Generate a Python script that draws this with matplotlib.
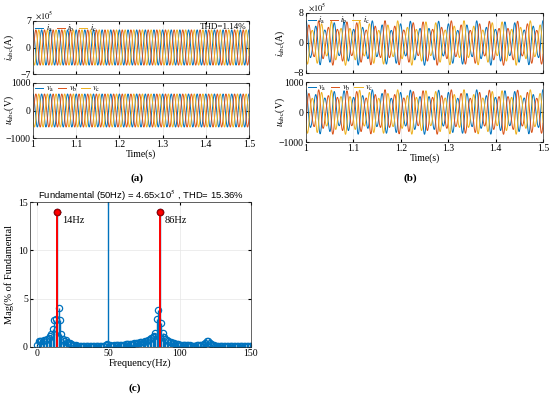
import numpy as np
import matplotlib
matplotlib.use('Agg')
import matplotlib.pyplot as plt

plt.rcParams['font.family'] = ['Liberation Serif', 'DejaVu Serif']
plt.rcParams['mathtext.fontset'] = 'stix'

# waveform parameters (a) and (b)
fund_hz = 50
phase_deg = [0, -120, 120]
phase_colors = ['#0072BD', '#D95319', '#EDB120']
cur_amp = 4.65          # x10^5 A
vol_amp = 600           # V
sso_freqs = [14, 86]
sso_cur_pct = [14, 14]
sso_vol_pct = [12, 12]
thd_a = 'THD=1.14%'

# spectrum of panel (c), % of fundamental, 0..150 Hz step 1 Hz
freqs = list(range(0, 151))
mags = [0.25, 0.65, 0.6, 0.62, 0.65, 0.7, 0.72, 0.8, 0.9, 1.1,
        1.3, 1.9, 2.8, 2.9, 14.0, 4.0, 2.8, 1.3, 0.8, 0.6,
        0.7, 0.5, 0.45, 0.4, 0.3, 0.25, 0.2, 0.2, 0.15, 0.15,
        0.12, 0.1, 0.1, 0.09, 0.08, 0.08, 0.08, 0.08, 0.08, 0.08,
        0.09, 0.09, 0.1, 0.1, 0.1, 0.11, 0.12, 0.15, 0.2, 0.3,
        100.0, 0.25, 0.15, 0.15, 0.16, 0.17, 0.18, 0.2, 0.2, 0.22,
        0.24, 0.25, 0.27, 0.28, 0.3, 0.32, 0.33, 0.35, 0.37, 0.4,
        0.42, 0.45, 0.47, 0.5, 0.52, 0.55, 0.6, 0.65, 0.7, 0.8,
        0.9, 1.0, 1.1, 1.5, 2.9, 3.8, 14.0, 2.5, 1.5, 1.0,
        0.8, 0.7, 0.6, 0.55, 0.5, 0.45, 0.4, 0.35, 0.3, 0.28,
        0.25, 0.22, 0.2, 0.2, 0.18, 0.18, 0.17, 0.16, 0.15, 0.15,
        0.15, 0.15, 0.16, 0.18, 0.2, 0.22, 0.25, 0.3, 0.45, 0.6,
        0.65, 0.45, 0.3, 0.22, 0.18, 0.15, 0.15, 0.14, 0.14, 0.13,
        0.13, 0.12, 0.12, 0.11, 0.11, 0.1, 0.1, 0.1, 0.09, 0.09,
        0.09, 0.08, 0.08, 0.08, 0.07, 0.07, 0.07, 0.06, 0.06, 0.06,
        0.06]
marked_freqs = [14, 86]
marked_labels = ['14Hz', '86Hz']

t = np.linspace(1.0, 1.5, 6001)


def wave(amp, k, pcts):
    ph = np.deg2rad(phase_deg[k])
    y = amp * np.cos(2 * np.pi * fund_hz * t + ph)
    for f, p in zip(sso_freqs, pcts):
        y += amp * p / 100 * np.cos(2 * np.pi * f * t + ph)
    return y


fig = plt.figure(figsize=(5.5, 3.94), dpi=100)
W, H = 550, 394


def add_ax(x0, y0, x1, y1):
    return fig.add_axes([x0 / W, 1 - y1 / H, (x1 - x0) / W, (y1 - y0) / H])


def style(ax):
    ax.tick_params(direction='in', length=2, labelsize=7, pad=1.5, top=True, right=True)
    ax.grid(True, color='#e6e6e6', linewidth=0.5)
    for s in ax.spines.values():
        s.set_linewidth(0.5)
        s.set_color('#262626')


panels = [
    dict(box=(33, 249), cur=(21, 74), vol=(83, 138), pct_i=[0, 0], pct_v=[0, 0], lim=7, lab='(a)', lx=137),
    dict(box=(306, 543), cur=(13, 73), vol=(82, 142), pct_i=sso_cur_pct, pct_v=sso_vol_pct, lim=8, lab='(b)', lx=410),
]
for p in panels:
    ax1 = add_ax(p['box'][0], p['cur'][0], p['box'][1], p['cur'][1])
    ax2 = add_ax(p['box'][0], p['vol'][0], p['box'][1], p['vol'][1])
    names_i = [r'$i_{\rm a}$', r'$i_{\rm b}$', r'$i_{\rm c}$']
    names_v = [r'$v_{\rm a}$', r'$v_{\rm b}$', r'$v_{\rm c}$']
    for k in range(3):
        ax1.plot(t, wave(cur_amp, k, p['pct_i']), color=phase_colors[k], lw=0.7, label=names_i[k])
        ax2.plot(t, wave(vol_amp, k, p['pct_v']), color=phase_colors[k], lw=0.7, label=names_v[k])
    for ax in (ax1, ax2):
        style(ax)
        ax.set_xlim(1, 1.5)
        ax.set_xticks([1, 1.1, 1.2, 1.3, 1.4, 1.5])
        ax.legend(loc='upper left', ncol=3, frameon=False, fontsize=6, handlelength=1.0,
                  handletextpad=0.3, columnspacing=0.5, borderpad=0.1, borderaxespad=0.1)
    ax1.set_ylim(-p['lim'], p['lim'])
    ax1.set_yticks([-p['lim'], 0, p['lim']])
    ax1.set_xticklabels([])
    ax1.text(0.01, 1.0, r'$\times10^5$', transform=ax1.transAxes, fontsize=6, va='bottom')
    ax1.set_ylabel(r'$i_{\rm abc}$(A)', fontsize=7)
    ax2.set_ylim(-1000, 1000)
    ax2.set_yticks([-1000, 0, 1000])
    ax2.set_xticklabels(['1', '1.1', '1.2', '1.3', '1.4', '1.5'])
    ax2.set_ylabel(r'$u_{\rm abc}$(V)', fontsize=7)
    for ax in (ax1, ax2):
        ax.yaxis.set_label_coords(-0.08, 0.5)
    ax2.set_xlabel('Time(s)', fontsize=7, labelpad=0)
    fig.text(p['lx'] / W, 1 - 178 / H, p['lab'], fontsize=8, fontweight='bold', ha='center', va='center')

# THD of panel (a)
fig.axes[0].text(0.99, 0.97, thd_a, transform=fig.axes[0].transAxes, fontsize=6.5, ha='right', va='top')

# spectrum panel (c)
axc = add_ax(30, 202, 251, 347)
style(axc)
axc.vlines(freqs, 0, mags, color='#0072BD', lw=1.0)
axc.plot(freqs, mags, 'o', color='#0072BD', mfc='none', ms=4.5, mew=0.9)
for f, lab in zip(marked_freqs, marked_labels):
    m = mags[freqs.index(f)]
    axc.vlines(f, 0, m, color='#FF0000', lw=1.4, zorder=3)
    axc.plot(f, m, 'o', color='#FF0000', mec='#A00000', ms=4.5, zorder=4)
    axc.annotate(lab, xy=(f, m), xytext=(f + 3.5, m - 0.9), fontsize=7.5, va='center',
                 arrowprops=dict(arrowstyle='-|>', color='black', lw=0.6, mutation_scale=5))
axc.set_xlim(-5, 150)
axc.set_ylim(0, 15)
axc.set_xticks([0, 50, 100, 150])
axc.set_yticks([0, 5, 10, 15])
axc.set_xlabel('Frequency(Hz)', fontsize=7.5, labelpad=0)
axc.set_ylabel('Mag(% of Fundamental', fontsize=7.5, labelpad=3)
axc.set_title(r'Fundamental (50Hz) = 4.65$\times$10$^5$ , THD= 15.36%', fontsize=6.8,
              family=['Liberation Sans', 'DejaVu Sans'], pad=2)
fig.text(135 / W, 1 - 388 / H, '(c)', fontsize=8, fontweight='bold', ha='center', va='center')

fig.savefig('out.png', dpi=100)
